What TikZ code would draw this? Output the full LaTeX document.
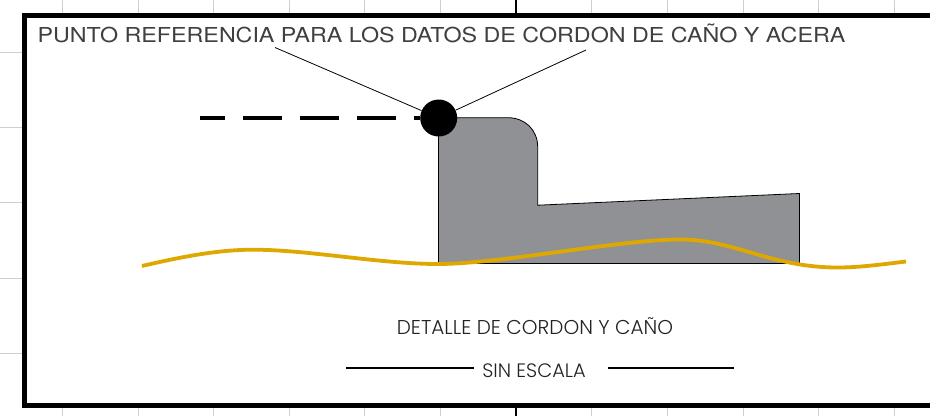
\documentclass[tikz,border=0pt]{standalone}
\usepackage{fontspec}
\setmainfont{TeX Gyre Heros}
\newfontfamily\headfont[FakeStretch=1.13]{TeX Gyre Heros}
\newfontfamily\gothicfont{Poppins Light}
\definecolor{gridgray}{HTML}{CFCFCF}
\definecolor{curbgray}{HTML}{909195}
\definecolor{earth}{HTML}{DFA800}
\definecolor{inktext}{HTML}{222222}
\definecolor{headink}{HTML}{404040}
\tikzset{
  x=1pt,y=-1pt,
  gridline/.style={draw=gridgray,line width=1pt},
  frameline/.style={draw=black,line width=5pt},
  leader/.style={draw=black,line width=0.8pt},
  rulebar/.style={draw=black,line width=1.6pt},
  headtext/.style={inner sep=0pt,text=headink,font=\headfont\fontsize{20.6}{22}\selectfont},
  subtext/.style={inner sep=0pt,text=inktext,font=\gothicfont\fontsize{20}{22}\selectfont},
  scaletext/.style={inner sep=0pt,text=inktext,font=\gothicfont\fontsize{19.4}{22}\selectfont},
}
\begin{document}
\begin{tikzpicture}
\useasboundingbox (0,0) rectangle (930,416);
\fill[white] (0,0) rectangle (930,416);
% grid stubs outside the frame
\foreach \gx in {62,138,213,289,364,440,591.5,667,743,818,894}{
  \draw[gridline] (\gx,0) -- (\gx,13);
  \draw[gridline] (\gx,408) -- (\gx,416);
}
\foreach \gy in {52,127,202,278,353}{
  \draw[gridline] (0,\gy) -- (22,\gy);
}
\draw[black,line width=1.6pt] (516,0) -- (516,13);
\draw[black,line width=1.6pt] (516,408) -- (516,416);
% frame
\draw[frameline] (932,15) -- (24.5,15) -- (24.5,405.5) -- (932,405.5);
% curb section
\draw[fill=curbgray,draw=black,line width=0.8pt]
  (438.5,117.7) -- (508,117.7) .. controls (525,117.7) and (537.7,130) .. (537.7,147)
  -- (537.7,205.2) -- (799.5,193.5) -- (799.5,263.5) -- (438.5,263.5) -- cycle;
% ground line
\draw[earth,line width=3.8pt]
  (142,266) .. controls (185,256) and (220,249.5) .. (255,249.7)
  .. controls (310,250) and (380,264) .. (438,264)
  .. controls (500,264) and (620,239.5) .. (680,239.5)
  .. controls (735,239.5) and (770,267.5) .. (838,267.5)
  .. controls (860,267.5) and (885,264) .. (906,261.5);
% texts
\node[headtext,anchor=center] (head) at (441.5,33) {PUNTO REFERENCIA PARA LOS DATOS DE CORDON DE CAÑO Y ACERA};
\node[subtext,anchor=center] (detail) at (535,326) {DETALLE DE CORDON Y CAÑO};
\node[scaletext,anchor=center] (scale) at (534,370.7) {SIN ESCALA};
% reference point
\node[circle,fill=black,draw=none,minimum size=37pt,inner sep=0pt] (dot) at (438.7,118) {};
\coordinate (leadL) at (275,47.5);
\coordinate (leadR) at (586,50);
\coordinate (dashstart) at (200,118);
\coordinate (ruleLa) at (346,368);
\coordinate (ruleLb) at (474,368);
\coordinate (ruleRa) at (608,368);
\coordinate (ruleRb) at (734,368);
\draw[leader] (leadL) -- (dot);
\draw[leader] (leadR) -- (dot);
\draw[black,line width=4pt,dash pattern=on 39pt off 18pt,dash phase=14pt] (dashstart) -- (dot);
\draw[rulebar] (ruleLa) -- (ruleLb);
\draw[rulebar] (ruleRa) -- (ruleRb);
\end{tikzpicture}
\end{document}
